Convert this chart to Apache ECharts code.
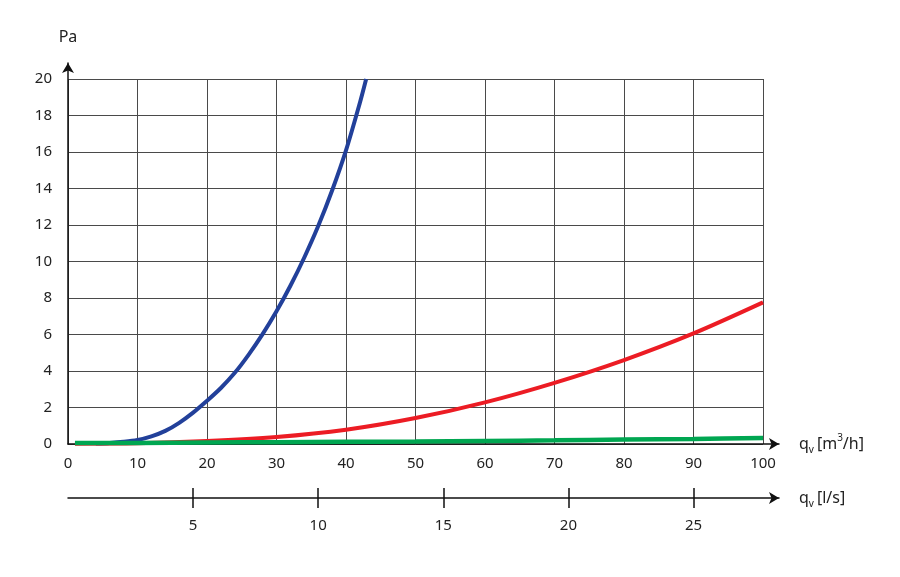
<!DOCTYPE html>
<html><head><meta charset="utf-8">
<script src="https://cdn.jsdelivr.net/npm/echarts@6/dist/echarts.min.js"></script>
<style>html,body{margin:0;padding:0;background:#fff}#c{width:900px;height:577px}</style>
</head><body><div id="c"></div>
<script>
// ---- data (x in m3/h, y in Pa) ----
const blueData = [[4,0.03],[6,0.06],[8,0.12],[10,0.22],[12,0.42],[14,0.72],[16,1.16],[18,1.72],[20,2.37],[22,3.07],[24,3.9],[26,4.9],[28,6.02],[30,7.27],[32,8.67],[34,10.22],[36,11.94],[38,13.89],[40,16.09],[42,18.7],[42.9,20]];
const redData = [[1,0.02],[10,0.04],[20,0.16],[30,0.38],[40,0.78],[50,1.42],[60,2.28],[70,3.35],[80,4.6],[90,6.06],[100,7.76]];
const greenData = [[1,0.05],[10,0.06],[20,0.08],[30,0.1],[40,0.12],[50,0.14],[60,0.17],[70,0.2],[80,0.24],[90,0.28],[100,0.33]];
const lsTicks = [5,10,15,20,25];
const M3H_PER_LS = 3.6;

// ---- layout ----
const L = 68, R = 763, AR = 779, T = 79, TA = 63, B = 444, W = 900, H = 577;
const lsMaxData = 100 / M3H_PER_LS;
const lsMaxAxis = lsMaxData * (AR - L) / (R - L);

const font = 'Noto Sans';
const txt = '#222';
const gridColor = '#4a4a4a';
const rich = {
  q: {fontSize: 16, fontFamily: font, color: txt, verticalAlign: 'middle', lineHeight: 22},
  v: {fontSize: 10, fontFamily: font, color: txt, verticalAlign: 'bottom', padding: [0, 3, 0, 0]},
  s: {fontSize: 10, fontFamily: font, color: txt, verticalAlign: 'top'}
};

const chart = echarts.init(document.getElementById('c'), null, {renderer: 'canvas'});
chart.setOption({
  animation: false,
  backgroundColor: '#fff',
  grid: [
    {left: L, right: W - R, top: T, bottom: H - B},
    {left: L, right: W - AR, top: TA, bottom: H - B}
  ],
  xAxis: [
    {type: 'value', gridIndex: 0, min: 0, max: 100, interval: 10,
     axisLine: {show: false}, axisTick: {show: false},
     axisLabel: {margin: 12, fontSize: 15, fontFamily: font, color: txt},
     splitLine: {show: true, lineStyle: {color: gridColor, width: 1}}},
    {type: 'value', gridIndex: 1, min: 0, max: 1,
     axisLine: {show: true, symbol: ['none', 'arrow'], symbolSize: [9, 10], lineStyle: {color: '#111', width: 1.5}},
     axisTick: {show: false}, axisLabel: {show: false}, splitLine: {show: false},
     name: '{q|q}{v|v}{q|[m}{s|3}{q|/h]}', nameLocation: 'end', nameGap: 20,
     nameTextStyle: {rich: rich, align: 'left', verticalAlign: 'middle'}},
    {type: 'value', gridIndex: 1, position: 'bottom', offset: 54, min: 0, max: lsMaxAxis,
     axisLine: {show: true, onZero: false, symbol: ['none', 'arrow'], symbolSize: [9, 10], lineStyle: {color: '#111', width: 1.5}},
     axisTick: {show: true, customValues: lsTicks, length: 10, inside: false, lineStyle: {color: '#111', width: 1.5}},
     axisLabel: {show: true, customValues: lsTicks, margin: 20, fontSize: 15, fontFamily: font, color: txt},
     splitLine: {show: false},
     name: '{q|q}{v|v}{q|[l/s]}', nameLocation: 'end', nameGap: 20,
     nameTextStyle: {rich: rich, align: 'left', verticalAlign: 'middle'}},
    {type: 'value', gridIndex: 1, position: 'bottom', offset: 54, min: 0, max: lsMaxAxis,
     axisLine: {show: false},
     axisTick: {show: true, customValues: lsTicks, length: 10, inside: true, lineStyle: {color: '#111', width: 1.5}},
     axisLabel: {show: false}, splitLine: {show: false}}
  ],
  yAxis: [
    {type: 'value', gridIndex: 0, min: 0, max: 20, interval: 2,
     axisLine: {show: false}, axisTick: {show: false},
     axisLabel: {margin: 16, fontSize: 15, fontFamily: font, color: txt},
     splitLine: {show: true, lineStyle: {color: gridColor, width: 1}}},
    {type: 'value', gridIndex: 1, min: 0, max: 1,
     axisLine: {show: true, symbol: ['none', 'arrow'], symbolSize: [9, 10], lineStyle: {color: '#111', width: 1.5}},
     axisTick: {show: false}, axisLabel: {show: false}, splitLine: {show: false},
     name: 'Pa', nameLocation: 'end', nameGap: 18,
     nameTextStyle: {fontSize: 16, fontFamily: font, color: txt, align: 'center'}}
  ],
  series: [
    {type: 'line', xAxisIndex: 0, yAxisIndex: 0, data: blueData, smooth: 0.3, showSymbol: false,
     lineStyle: {color: '#22409a', width: 4}, clip: true},
    {type: 'line', xAxisIndex: 0, yAxisIndex: 0, data: redData, smooth: 0.3, showSymbol: false,
     lineStyle: {color: '#ec1c24', width: 4}, clip: true},
    {type: 'line', xAxisIndex: 0, yAxisIndex: 0, data: greenData, smooth: 0.3, showSymbol: false,
     lineStyle: {color: '#00a651', width: 4.5}, clip: true}
  ]
});
</script></body></html>
